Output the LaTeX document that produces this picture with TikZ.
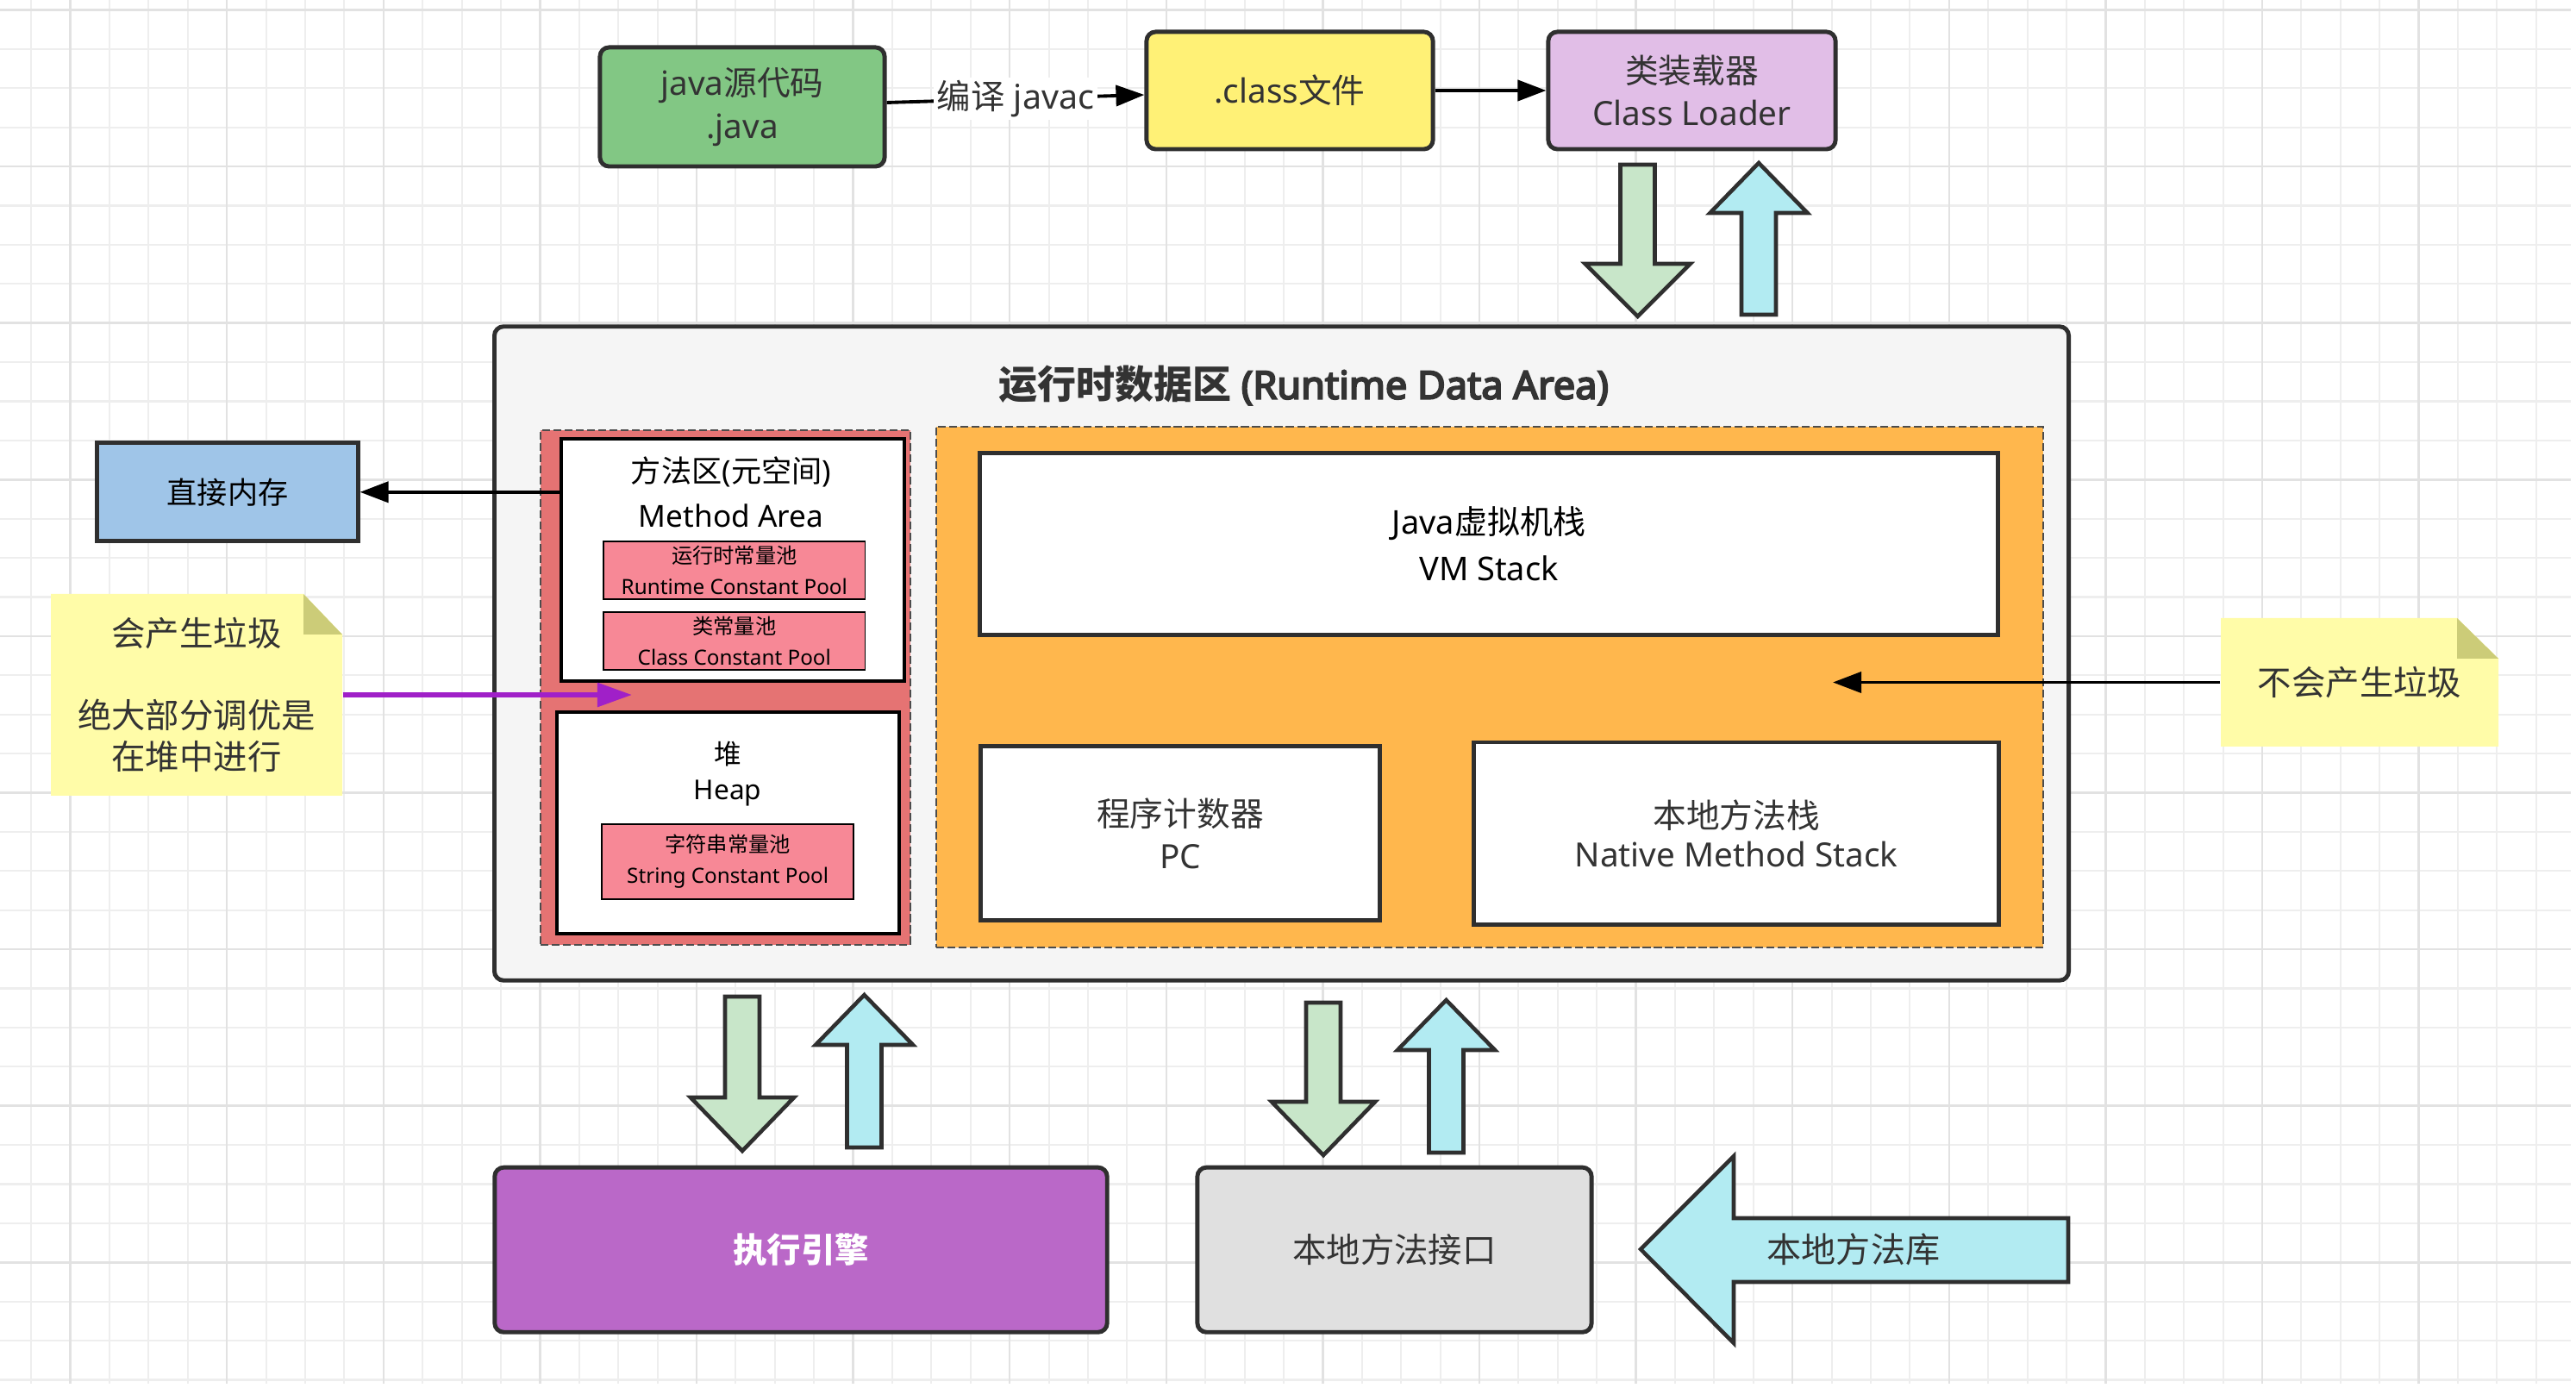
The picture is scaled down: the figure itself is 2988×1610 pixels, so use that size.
\documentclass[tikz,border=0pt]{standalone}
\usepackage{fontspec}
\setmainfont{Noto Sans}
\newfontfamily\zh{Noto Sans CJK SC}
\newfontfamily\latbold{Noto Sans}[FakeBold=4.5]
\usetikzlibrary{arrows.meta}
\definecolor{gridminor}{HTML}{EEEEEE}
\definecolor{gridmajor}{HTML}{E2E2E2}
\definecolor{linec}{HTML}{2F2F2F}
\definecolor{textc}{HTML}{333333}
\definecolor{javac}{HTML}{82C784}
\definecolor{classc}{HTML}{FFF176}
\definecolor{loaderc}{HTML}{E1BEE7}
\definecolor{outerc}{HTML}{F5F5F5}
\definecolor{redc}{HTML}{E57373}
\definecolor{poolc}{HTML}{F78896}
\definecolor{orangec}{HTML}{FFB74D}
\definecolor{dmc}{HTML}{9FC5E8}
\definecolor{execc}{HTML}{BA68C8}
\definecolor{nifc}{HTML}{E0E0E0}
\definecolor{greenc}{HTML}{C8E6C9}
\definecolor{bluec}{HTML}{B2EBF2}
\definecolor{notec}{HTML}{FFFCA8}
\definecolor{foldc}{HTML}{CCCC78}
\definecolor{purplec}{HTML}{A020C8}
\newcommand\myfs[2]{\fontsize{#1}{#2}\selectfont}
\begin{document}
\begin{tikzpicture}[x=0.01cm,y=-0.01cm,
  box/.style={draw=linec,line width=1.4pt,inner sep=0pt,align=center,text=textc},
  topbox/.style={box,rounded corners=3pt,font=\myfs{11}{14}},
  whitebox/.style={box,fill=white},
  innerbox/.style={draw=black,line width=1.2pt,fill=white,inner sep=0pt},
  poolbox/.style={draw=black,line width=0.5pt,fill=poolc,inner sep=0pt,align=center,text=black,font=\myfs{6.9}{10.2}},
  region/.style={draw=black!70,line width=0.6pt,dash pattern=on 2.6pt off 1.1pt,inner sep=0pt},
  blockarrow/.style={draw=linec,line width=1.3pt,line join=miter},
  conn/.style={draw=black,line width=1.1pt,-{Triangle[length=0.33cm,width=0.24cm]}},
  txt/.style={inner sep=0pt,align=center},
]
\useasboundingbox (0,0) rectangle (2988,1610);
\fill[white] (0,0) rectangle (2988,1610);
% grid
\foreach \k in {0,...,64} \draw[gridminor,line width=0.6pt] ({36.2+45.4*\k},0) -- ({36.2+45.4*\k},1605);
\foreach \k in {0,...,35} \draw[gridminor,line width=0.6pt] (0,{11.5+45.4*\k}) -- (2982,{11.5+45.4*\k});
\foreach \k in {1,5,...,61} \draw[gridmajor,line width=0.7pt] ({36.2+45.4*\k},0) -- ({36.2+45.4*\k},1605);
\foreach \k in {0,4,...,32} \draw[gridmajor,line width=0.7pt] (0,{11.5+45.4*\k}) -- (2982,{11.5+45.4*\k});

% top row
\node[topbox,fill=javac,minimum width=3.30cm,minimum height=1.38cm] (java) at (861,124) {java{\zh 源代码}\\.java};
\node[topbox,fill=classc,minimum width=3.32cm,minimum height=1.36cm] (class) at (1496,105) {.class{\zh 文件}};
\node[topbox,fill=loaderc,minimum width=3.33cm,minimum height=1.36cm] (loader) at (1962.5,105) {{\zh 类装载器}\\Class Loader};

% block arrows loader <-> runtime area
\draw[blockarrow,fill=greenc] (1879.5,191) -- (1919.5,191) -- (1919.5,306) -- (1960.5,306) -- (1899.5,367) -- (1838.5,306) -- (1879.5,306) -- cycle;
\draw[blockarrow,fill=bluec] (2020,365) -- (2060,365) -- (2060,247) -- (2096.5,247) -- (2040,189) -- (1983.5,247) -- (2020,247) -- cycle;

% runtime data area
\node[box,fill=outerc,rounded corners=3pt,minimum width=18.25cm,minimum height=7.58cm] (rda) at (1486.5,758) {};
\node[txt,text=textc,font=\myfs{12.8}{15}] (title) at (1512,447) {{\zh\bfseries 运行时数据区} {\latbold (Runtime Data Area)}};

% heap zone
\node[region,fill=redc,minimum width=4.29cm,minimum height=5.965cm] (heapzone) at (841.5,797.3) {};
\node[innerbox,minimum width=3.98cm,minimum height=2.81cm] (ma) at (850,649.4) {};
\node[txt,font=\myfs{10}{14.7},text=black] (matext) at (848,571) {{\zh 方法区}({\zh 元空间})\\Method Area};
\node[poolbox,minimum width=3.03cm,minimum height=0.667cm] (rcp) at (851.8,661.7) {{\zh 运行时常量池}\\Runtime Constant Pool};
\node[poolbox,minimum width=3.03cm,minimum height=0.667cm] (ccp) at (851.8,743.4) {{\zh 类常量池}\\Class Constant Pool};
\node[innerbox,minimum width=3.97cm,minimum height=2.57cm] (heap) at (844.3,954.4) {};
\node[txt,font=\myfs{9}{11.7},text=black] (heaptext) at (844,898) {{\zh 堆}\\Heap};
\node[poolbox,minimum width=2.916cm,minimum height=0.868cm] (scp) at (844.2,999.4) {{\zh 字符串常量池}\\String Constant Pool};

% stack zone
\node[region,fill=orangec,minimum width=12.84cm,minimum height=6.036cm] (stackzone) at (1728,796.8) {};
\node[whitebox,minimum width=11.81cm,minimum height=2.105cm,font=\myfs{10.8}{15.3},text=black] (vm) at (1727,630.8) {Java{\zh 虚拟机栈}\\VM Stack};
\node[whitebox,minimum width=4.62cm,minimum height=2.01cm,font=\myfs{11}{14}] (pc) at (1369,966.5) {{\zh 程序计数器}\\PC};
\node[whitebox,minimum width=6.085cm,minimum height=2.117cm,font=\myfs{11}{12.8}] (nms) at (2014,966.9) {{\zh 本地方法栈}\\Native Method Stack};

% direct memory
\node[box,fill=dmc,minimum width=3.02cm,minimum height=1.136cm,font=\myfs{10}{12},text=black] (dm) at (264,570.8) {{\zh 直接内存}};

% notes
\fill[notec] (59,689) -- (352,689) -- (397,736) -- (397,923) -- (59,923) -- cycle;
\fill[foldc] (352,689) -- (397,736) -- (352,736) -- cycle;
\node[txt,minimum width=3.38cm,minimum height=2.34cm,font=\myfs{11.2}{13.5},text=textc] (leftnote) at (228,806) {{\zh 会产生垃圾}\\[13.5pt]{\zh 绝大部分调优是}\\{\zh 在堆中进行}};
\fill[notec] (2576,717) -- (2850,717) -- (2898,764) -- (2898,866) -- (2576,866) -- cycle;
\fill[foldc] (2850,717) -- (2898,764) -- (2850,764) -- cycle;
\node[txt,minimum width=3.22cm,minimum height=1.49cm,font=\myfs{11.2}{13.5},text=textc] (rightnote) at (2737,791.5) {{\zh 不会产生垃圾}};

% bottom block arrows
\draw[blockarrow,fill=greenc] (841,1156) -- (881,1156) -- (881,1273) -- (921,1273) -- (861,1335) -- (801,1273) -- (841,1273) -- cycle;
\draw[blockarrow,fill=bluec] (982.5,1331) -- (1022.5,1331) -- (1022.5,1212) -- (1059,1212) -- (1002.5,1154) -- (946,1212) -- (982.5,1212) -- cycle;
\draw[blockarrow,fill=greenc] (1515,1163) -- (1555,1163) -- (1555,1278) -- (1595,1278) -- (1535,1340) -- (1475,1278) -- (1515,1278) -- cycle;
\draw[blockarrow,fill=bluec] (1657.5,1337) -- (1697.5,1337) -- (1697.5,1218) -- (1734,1218) -- (1677.5,1160) -- (1621,1218) -- (1657.5,1218) -- cycle;

% bottom boxes
\node[box,fill=execc,rounded corners=3pt,minimum width=7.10cm,minimum height=1.91cm,font=\myfs{11.2}{14}\bfseries,text=white] (exec) at (929,1449.7) {{\zh 执行引擎}};
\node[box,fill=nifc,rounded corners=3pt,minimum width=4.57cm,minimum height=1.91cm,font=\myfs{11.2}{14}] (nif) at (1617.5,1449.7) {{\zh 本地方法接口}};

% native library arrow
\draw[blockarrow,fill=bluec] (2399,1413) -- (2011,1413) -- (2011,1341) -- (1903,1449) -- (2011,1558) -- (2011,1487) -- (2399,1487) -- cycle;
\node[txt,font=\myfs{11.4}{14},text=textc] (lib) at (2150,1449) {{\zh 本地方法库}};

% connectors
\draw[conn] (java) -- node[fill=white,inner sep=1pt,font=\myfs{11.2}{13},text=textc] (jlabel) {{\zh 编译} javac} (class);
\draw[conn] (class) -- (loader);
\draw[conn] (ma.west |- dm.east) -- (dm.east);
\coordinate (ptip) at (733,806);
\draw[purplec,line width=1.6pt,-{Triangle[length=0.4cm,width=0.27cm]}] (leftnote.east) -- (ptip);
\coordinate (gtip) at (2126,791.5);
\draw[conn] (rightnote.west) -- (gtip);
\end{tikzpicture}
\end{document}
